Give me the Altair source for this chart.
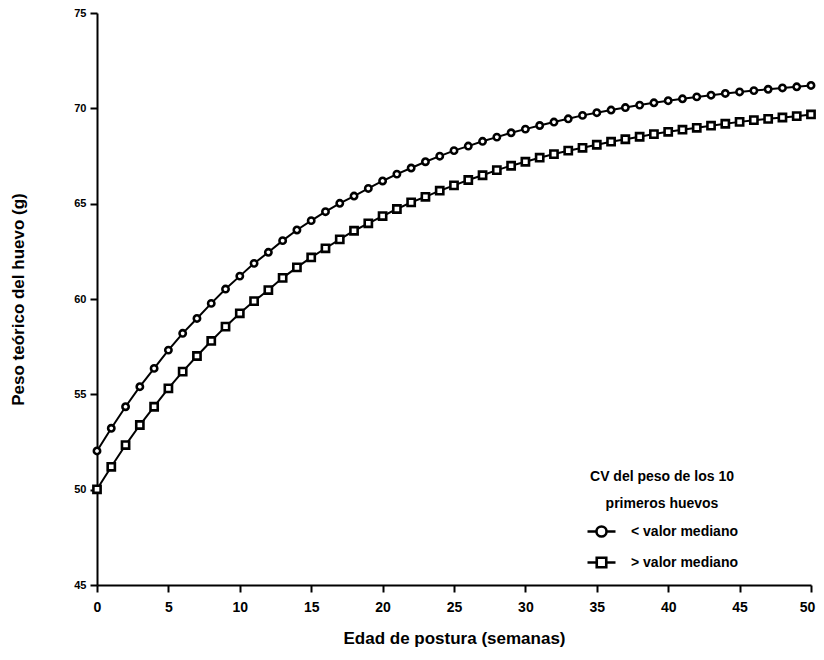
import altair as alt
import pandas as pd

semanas = list(range(51))

menor = [52.03, 53.22, 54.35, 55.40, 56.36, 57.32, 58.20, 58.98, 59.77, 60.52,
         61.20, 61.87, 62.45, 63.06, 63.62, 64.11, 64.58, 65.02, 65.40, 65.80,
         66.19, 66.55, 66.87, 67.20, 67.49, 67.78, 68.02, 68.27, 68.49, 68.72,
         68.91, 69.10, 69.28, 69.45, 69.63, 69.77, 69.91, 70.04, 70.17, 70.29,
         70.40, 70.50, 70.60, 70.69, 70.78, 70.86, 70.93, 71.00, 71.07, 71.13,
         71.20]

mayor = [50.02, 51.20, 52.34, 53.39, 54.35, 55.31, 56.19, 57.01, 57.80, 58.55,
         59.25, 59.89, 60.47, 61.11, 61.66, 62.18, 62.66, 63.13, 63.58, 63.97,
         64.35, 64.72, 65.07, 65.36, 65.68, 65.96, 66.24, 66.49, 66.76, 66.99,
         67.20, 67.41, 67.60, 67.78, 67.93, 68.09, 68.25, 68.38, 68.51, 68.65,
         68.77, 68.88, 68.98, 69.09, 69.19, 69.29, 69.38, 69.45, 69.52, 69.59,
         69.68]

series = ["< valor mediano", "> valor mediano"]
legend_title = ["CV del peso de los 10", "primeros huevos"]

rows = []
for s, vals in zip(series, [menor, mayor]):
    for w, v in zip(semanas, vals):
        rows.append({"semana": w, "peso": v, "serie": s})
df = pd.DataFrame(rows)

FONT = "Liberation Sans"

x = alt.X(
    "semana:Q",
    scale=alt.Scale(domain=[0, 50], nice=False, zero=False),
    axis=alt.Axis(
        values=list(range(0, 51, 5)),
        title="Edad de postura (semanas)",
        grid=False,
        domainColor="black", domainWidth=2,
        tickColor="black", tickWidth=2, tickSize=7,
        labelFontSize=14, labelFontWeight="bold", labelColor="black",
        labelPadding=8, labelFlush=False,
        labelOffset={"condition": {"test": "datum.value == 50", "value": -4}, "value": 0},
        titleFontSize=17, titleFontWeight="bold", titleColor="black",
        titlePadding=16,
    ),
)
y = alt.Y(
    "peso:Q",
    scale=alt.Scale(domain=[45, 75], nice=False, zero=False),
    axis=alt.Axis(
        values=list(range(45, 76, 5)),
        title="Peso teórico del huevo (g)",
        grid=False,
        domainColor="black", domainWidth=2,
        tickColor="black", tickWidth=2, tickSize=7,
        labelFontSize=11, labelFontWeight="bold", labelColor="black",
        labelPadding=4,
        titleFontSize=17, titleFontWeight="bold", titleColor="black",
        titlePadding=46,
    ),
)

lines = alt.Chart(df).mark_line(color="black", strokeWidth=2).encode(
    x=x, y=y, detail="serie:N"
)

points = alt.Chart(df).mark_point(
    filled=True, fill="white", stroke="black", strokeWidth=2.6, opacity=1
).encode(
    x=x,
    y=y,
    shape=alt.Shape("serie:N", scale=alt.Scale(domain=series, range=["circle", "square"]), legend=None),
    size=alt.Size("serie:N", scale=alt.Scale(domain=series, range=[40, 52]), legend=None),
)

circ_path = "M-1,0L-0.36,0M0.36,0L1,0M-0.36,0A0.36,0.36,0,1,1,0.36,0A0.36,0.36,0,1,1,-0.36,0Z"
sq_path = "M-1,0L-0.34,0M0.34,0L1,0M-0.34,-0.34L0.34,-0.34L0.34,0.34L-0.34,0.34Z"

legend_layer = alt.Chart(df).transform_filter("false").mark_point(
    filled=False, color="black", strokeWidth=2.6, opacity=1
).encode(
    x=x,
    y=y,
    shape=alt.Shape(
        "serie:N",
        scale=alt.Scale(domain=series, range=[circ_path, sq_path]),
        legend=alt.Legend(
            title=legend_title,
            orient="none", legendX=489, legendY=457,
            titleFontSize=14, titleFontWeight="bold", titleColor="black",
            titleLineHeight=27, titleAnchor="middle", titleAlign="center",
            titlePadding=5,
            labelFontSize=14, labelFontWeight="bold", labelColor="black",
            labelOffset=14,
            symbolSize=784, symbolStrokeWidth=2.6,
            symbolStrokeColor="black",
            symbolOpacity=1, rowPadding=5,
        ),
    ),
)

chart = (
    alt.layer(lines, points, legend_layer)
    .resolve_scale(shape="independent", size="independent")
    .properties(
        width=714, height=572,
        autosize=alt.AutoSizeParams(type="none"),
        padding={"left": 89, "top": 5, "right": 5, "bottom": 70},
    )
    .configure(font=FONT)
    .configure_view(stroke=None)
)

chart.save("out.html", embed_options={"renderer": "svg", "actions": False})
